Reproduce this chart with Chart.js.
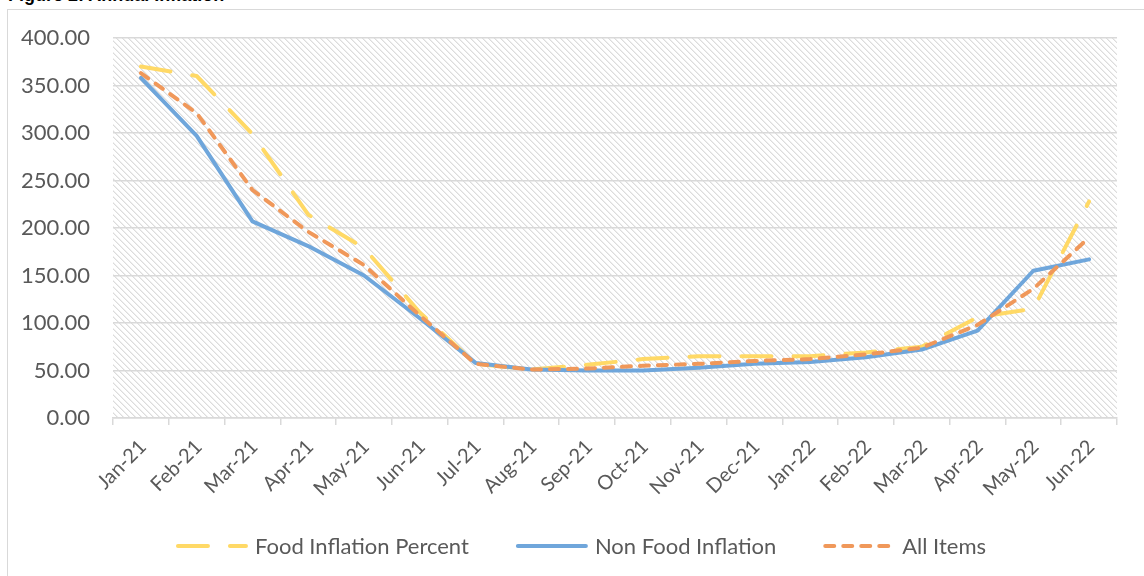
<!DOCTYPE html>
<html>
<head>
<meta charset="utf-8">
<script src="https://cdn.jsdelivr.net/npm/chart.js@4.4.1/dist/chart.umd.min.js"></script>
<style>
  html, body { margin: 0; padding: 0; background: #fff; overflow: hidden; }
  #wrap { position: relative; width: 1144px; height: 576px; overflow: hidden; }
  #title { position: absolute; left: 8px; top: -14px; font: bold 18px "Liberation Sans", Arial, sans-serif; line-height: 18px; color: #000; white-space: nowrap; }
  #frame { position: absolute; left: 7px; top: 9px; width: 1200px; height: 700px; border: 1.5px solid #d9d9d9; box-sizing: border-box; }
  #myChart { position: absolute; left: 0; top: 0; }
</style>
</head>
<body>
<div id="wrap">
  <div id="title">Figure 2: Annual Inflation</div>
  <div id="frame"></div>
  <canvas id="myChart" width="1144" height="576"></canvas>
</div>
<script>
const months = ["Jan-21", "Feb-21", "Mar-21", "Apr-21", "May-21", "Jun-21", "Jul-21", "Aug-21", "Sep-21",
  "Oct-21", "Nov-21", "Dec-21", "Jan-22", "Feb-22", "Mar-22", "Apr-22", "May-22", "Jun-22"];

const foodInflation = [370, 360, 299, 214, 179, 111, 57, 51, 56, 62, 65, 65, 65, 69, 75, 106, 115, 228];
const nonFoodInflation = [358, 297, 207, 181, 150, 105, 58, 51, 50, 50, 53, 57, 59, 64, 72, 92, 155, 167];
const allItems = [363, 321, 240, 196, 161, 108, 57, 51, 52, 55, 57, 60, 62, 67, 74, 98, 136, 190];

const yTicks = [0, 50, 100, 150, 200, 250, 300, 350, 400];

const textFont = "Lato";
const greyText = "#595959";

// hatched plot background
function makeHatch() {
  const c = document.createElement("canvas");
  c.width = 6; c.height = 6;
  const g = c.getContext("2d");
  const img = g.createImageData(6, 6);
  for (let y = 0; y < 6; y++) {
    for (let x = 0; x < 6; x++) {
      const i = (y * 6 + x) * 4;
      const d = (x - y + 12) % 6;
      const v = d === 0 ? 220 : (d === 1 ? 238 : 255);
      img.data[i] = v; img.data[i + 1] = v; img.data[i + 2] = v; img.data[i + 3] = 255;
    }
  }
  g.putImageData(img, 0, 0);
  return c;
}
const hatch = makeHatch();

const hatchPlugin = {
  id: "hatchBg",
  beforeDraw(chart) {
    const a = chart.chartArea;
    const ctx = chart.ctx;
    ctx.save();
    ctx.fillStyle = ctx.createPattern(hatch, "repeat");
    ctx.fillRect(a.left, a.top, a.right - a.left, a.bottom - a.top);
    ctx.restore();
  }
};

const legendPlugin = {
  id: "bottomLegend",
  afterDraw(chart) {
    const ctx = chart.ctx;
    ctx.save();
    ctx.font = "22px " + textFont;
    const lineLen = 72, textGap = 7, itemGap = 47;
    const items = chart.data.datasets.map(ds => ({ ds, w: lineLen + textGap + ctx.measureText(ds.label).width }));
    const total = items.reduce((s, it) => s + it.w, 0) + itemGap * (items.length - 1);
    let x = 581 - total / 2;
    const y = 546;
    items.forEach(it => {
      ctx.strokeStyle = it.ds.borderColor;
      ctx.lineWidth = it.ds.borderWidth;
      ctx.lineCap = it.ds.borderCapStyle || "butt";
      ctx.setLineDash(it.ds.borderDash || []);
      ctx.beginPath();
      ctx.moveTo(x + 2, y);
      ctx.lineTo(x + lineLen - 2, y);
      ctx.stroke();
      ctx.setLineDash([]);
      ctx.fillStyle = greyText;
      ctx.textBaseline = "middle";
      ctx.fillText(it.ds.label, x + lineLen + textGap, y + 1);
      x += it.w + itemGap;
    });
    ctx.restore();
  }
};

const ctx = document.getElementById("myChart").getContext("2d");

const datasets = [
  {
    label: "Food Inflation Percent",
    data: foodInflation,
    borderColor: "#FFD966",
    borderWidth: 4,
    borderDash: [30, 22],
    borderCapStyle: "round",
    order: 3
  },
  {
    label: "Non Food Inflation",
    data: nonFoodInflation,
    borderColor: "#6FA6DB",
    borderWidth: 4,
    borderCapStyle: "round",
    order: 2
  },
  {
    label: "All Items",
    data: allItems,
    borderColor: "#F0985A",
    borderWidth: 4,
    borderDash: [9, 9],
    borderCapStyle: "round",
    order: 1
  }
];

const myChart = new Chart(ctx, {
  type: "line",
  data: { labels: months, datasets },
  options: {
    responsive: false,
    animation: false,
    devicePixelRatio: 1,
    layout: { padding: { top: 38, right: 27, bottom: 0, left: 0 } },
    elements: {
      point: { radius: 0, hoverRadius: 0 },
      line: { tension: 0, borderJoinStyle: "round" }
    },
    plugins: {
      legend: { display: false },
      tooltip: { enabled: false }
    },
    scales: {
      x: {
        offset: true,
        grid: {
          offset: true,
          drawOnChartArea: false,
          drawTicks: true,
          tickLength: 7,
          color: "#d9d9d9",
          lineWidth: 1.5
        },
        border: { display: true, color: "#d9d9d9", width: 1.5 },
        ticks: {
          autoSkip: false,
          maxRotation: 45,
          minRotation: 45,
          padding: 10,
          labelOffset: 2,
          color: greyText,
          font: { family: textFont, size: 20 }
        },
        afterFit(scale) { scale.height = 158; }
      },
      y: {
        min: 0,
        max: 400,
        afterBuildTicks(scale) { scale.ticks = yTicks.map(v => ({ value: v })); },
        grid: {
          color: "#d9d9d9",
          lineWidth: 1.5,
          drawTicks: false
        },
        border: { display: false },
        ticks: {
          padding: 23,
          color: greyText,
          font: { family: textFont, size: 22 },
          callback: v => Number(v).toFixed(2)
        },
        afterFit(scale) { scale.width = 113; }
      }
    }
  },
  plugins: [hatchPlugin, legendPlugin]
});
</script>
</body>
</html>
